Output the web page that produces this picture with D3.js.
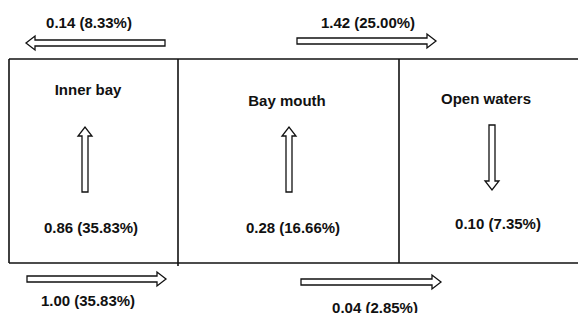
<!DOCTYPE html>
<html>
<head>
<meta charset="utf-8">
<script src="https://cdn.jsdelivr.net/npm/d3@7"></script>
<style>
    html, body { margin: 0; padding: 0; background: #fff; }
    text { font-family: "Liberation Sans", Arial, sans-serif; font-weight: bold; fill: #111; }
</style>
</head>
<body>
<script>
(function(d3) {
    'use strict';

    // zones of the bay, left to right
    var zones = ['Inner bay', 'Bay mouth', 'Open waters'];
    var zoneValues = ['0.86 (35.83%)', '0.28 (16.66%)', '0.10 (7.35%)'];
    var zoneDirection = ['up', 'up', 'down'];

    // exchange fluxes above and below the box
    var topFlows = ['0.14 (8.33%)', '1.42 (25.00%)'];
    var topDirection = ['left', 'right'];
    var bottomFlows = ['1.00 (35.83%)', '0.04 (2.85%)'];
    var bottomDirection = ['right', 'right'];

    var settings = {
        width: 579,
        height: 313,
        boxLeft: 9,
        boxRight: 578,
        boxTop: 59,
        boxBottom: 263,
        dividers: [178, 399],
        shaft: 3,
        headHalf: 7,
        headLen: 9,
        fontSize: 15
    };

    var svg = d3.select('body')
        .append('svg')
        .attr('width', settings.width)
        .attr('height', settings.height);

    // pixel scales (identity), marks positioned through them
    var x = d3.scaleLinear().domain([0, settings.width]).range([0, settings.width]);
    var y = d3.scaleLinear().domain([0, settings.height]).range([0, settings.height]);

    // zone centres for labels / arrows
    var zoneX = d3.scaleOrdinal().domain(zones).range([88, 287, 486]);
    var zoneArrowX = d3.scaleOrdinal().domain(zones).range([85, 289, 492]);
    var valueX = d3.scaleOrdinal().domain(zones).range([91, 293, 498]);
    var zoneTitleY = d3.scaleOrdinal().domain(zones).range([95, 106, 104]);
    var zoneValueY = d3.scaleOrdinal().domain(zones).range([233, 233, 229]);
    var arrowSpan = d3.scaleOrdinal().domain(zones).range([[127, 192], [127, 192], [125, 190]]);

    function hArrow(x0, x1, yc, dir) {
        // x0 = tail, x1 = tip
        var s = settings.shaft, h = settings.headHalf, l = settings.headLen;
        var sign = dir === 'right' ? 1 : -1;
        var base = x1 - sign * l;
        return d3.line()([
            [x0, yc - s], [base, yc - s], [base, yc - h], [x1, yc],
            [base, yc + h], [base, yc + s], [x0, yc + s]
        ]) + 'Z';
    }

    function vArrow(xc, y0, y1) {
        // y0 = tail, y1 = tip
        var s = settings.shaft, h = settings.headHalf, l = settings.headLen;
        var sign = y1 > y0 ? 1 : -1;
        var base = y1 - sign * l;
        return d3.line()([
            [xc - s, y0], [xc - s, base], [xc - h, base], [xc, y1],
            [xc + h, base], [xc + s, base], [xc + s, y0]
        ]) + 'Z';
    }

    var arrowStyle = function(sel) {
        sel.attr('fill', '#fff')
            .attr('stroke', '#111')
            .attr('stroke-width', 1.3)
            .attr('stroke-linejoin', 'miter');
    };

    // box outline
    var g = svg.append('g').attr('stroke', '#111').attr('stroke-width', 1.6);
    g.append('line')
        .attr('x1', x(settings.boxLeft)).attr('x2', x(settings.boxRight))
        .attr('y1', y(settings.boxTop)).attr('y2', y(settings.boxTop));
    g.append('line')
        .attr('x1', x(settings.boxLeft)).attr('x2', x(settings.boxRight))
        .attr('y1', y(settings.boxBottom)).attr('y2', y(settings.boxBottom));
    g.append('line')
        .attr('x1', x(settings.boxLeft)).attr('x2', x(settings.boxLeft))
        .attr('y1', y(settings.boxTop)).attr('y2', y(settings.boxBottom));
    g.selectAll('line.div')
        .data(settings.dividers)
        .enter()
        .append('line')
        .attr('class', 'div')
        .attr('x1', function(d) { return x(d); })
        .attr('x2', function(d) { return x(d); })
        .attr('y1', y(settings.boxTop))
        .attr('y2', function(d, i) { return y(settings.boxBottom + (i === 0 ? 3 : 0)); });

    // zone titles, values and vertical arrows
    svg.selectAll('text.zone')
        .data(zones)
        .enter()
        .append('text')
        .attr('class', 'zone')
        .attr('x', function(d) { return x(zoneX(d)); })
        .attr('y', function(d) { return y(zoneTitleY(d)); })
        .attr('text-anchor', 'middle')
        .attr('font-size', settings.fontSize)
        .text(function(d) { return d; });

    svg.selectAll('text.value')
        .data(zones)
        .enter()
        .append('text')
        .attr('class', 'value')
        .attr('x', function(d) { return x(valueX(d)); })
        .attr('y', function(d) { return y(zoneValueY(d)); })
        .attr('text-anchor', 'middle')
        .attr('font-size', settings.fontSize)
        .text(function(d, i) { return zoneValues[i]; });

    svg.selectAll('path.vert')
        .data(zones)
        .enter()
        .append('path')
        .attr('class', 'vert')
        .attr('d', function(d, i) {
            var span = arrowSpan(d);
            var tail = zoneDirection[i] === 'up' ? span[1] : span[0];
            var tip = zoneDirection[i] === 'up' ? span[0] : span[1];
            return vArrow(x(zoneArrowX(d)), y(tail), y(tip));
        })
        .call(arrowStyle);

    // horizontal fluxes
    var topArrows = [[26, 165, 43], [297, 436, 41]];
    var topLabels = [[89, 28], [368, 28]];
    var bottomArrows = [[27, 166, 279], [301, 441, 282]];
    var bottomLabels = [[88, 306], [375, 313]];

    function drawFlows(cls, labels, dirs, arrows, labelPos) {
        svg.selectAll('path.' + cls)
            .data(labels)
            .enter()
            .append('path')
            .attr('class', cls)
            .attr('d', function(d, i) {
                var a = arrows[i];
                var tail = dirs[i] === 'right' ? a[0] : a[1];
                var tip = dirs[i] === 'right' ? a[1] : a[0];
                return hArrow(x(tail), x(tip), y(a[2]), dirs[i]);
            })
            .call(arrowStyle);

        svg.selectAll('text.' + cls)
            .data(labels)
            .enter()
            .append('text')
            .attr('class', cls)
            .attr('x', function(d, i) { return x(labelPos[i][0]); })
            .attr('y', function(d, i) { return y(labelPos[i][1]); })
            .attr('text-anchor', 'middle')
            .attr('font-size', settings.fontSize)
            .text(function(d) { return d; });
    }

    drawFlows('top', topFlows, topDirection, topArrows, topLabels);
    drawFlows('bottom', bottomFlows, bottomDirection, bottomArrows, bottomLabels);

})(window.d3);
</script>
</body>
</html>
